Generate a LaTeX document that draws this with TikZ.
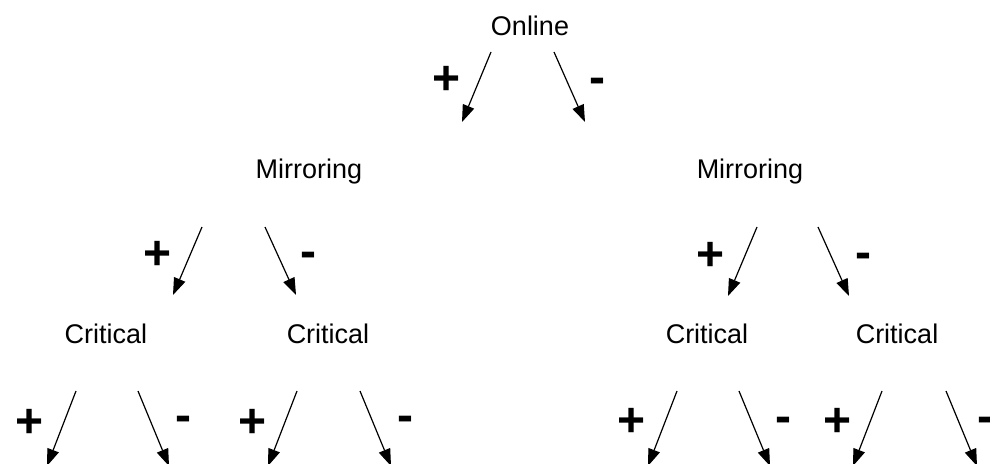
\documentclass[tikz,border=0pt]{standalone}
\usepackage{fontspec}
\setmainfont{Liberation Sans}
\usetikzlibrary{arrows.meta}
\tikzset{
  state/.style={font=\fontsize{27}{30}\selectfont,anchor=base,inner sep=0},
  sign/.style={font=\bfseries\fontsize{48}{48}\selectfont,inner sep=0},
  branch/.style={-{Triangle[length=17pt,width=12pt]},line width=1.2pt}
}
\begin{document}
\begin{tikzpicture}[x=1pt,y=-1pt]
	\clip (0,0) rectangle (990,463);
	\node[state] (online) at (530,35) {Online};
	\node[state] (mirrorL) at (309,178) {Mirroring};
	\node[state] (mirrorR) at (750,178) {Mirroring};
	\foreach \x/\n in {106/1,328/2,707/3,897/4}
		\node[state] (crit\n) at (\x,343) {Critical};
	% name / plus / left top x / right top x / minus / top y / drop
	\foreach \n/\px/\py/\ax/\bx/\mx/\my/\ty/\dy in {
			a/447/80/491/554/597/86/52/70,
			b/158/255/202/265/308/260/227/68,
			c/711/256/757/818/863/261/227/69,
			d/30/423/76/138/183/424/391/75,
			e/253/423/297/360/405/424/391/75,
			f/632/422/677/739/783/425/391/75,
			g/838/422/882/946/985/425/391/75}
	{
		\node[sign] (plus\n) at (\px,\py) {+};
		\node[sign] (minus\n) at (\mx,\my) {-};
		\coordinate (l\n) at (\ax,\ty);
		\coordinate (r\n) at (\bx,\ty);
		\path (l\n) ++(-29,\dy) coordinate (lt\n);
		\path (r\n) ++(31,\dy) coordinate (rt\n);
		\draw[branch] (l\n) -- (lt\n);
		\draw[branch] (r\n) -- (rt\n);
	}
\end{tikzpicture}
\end{document}
